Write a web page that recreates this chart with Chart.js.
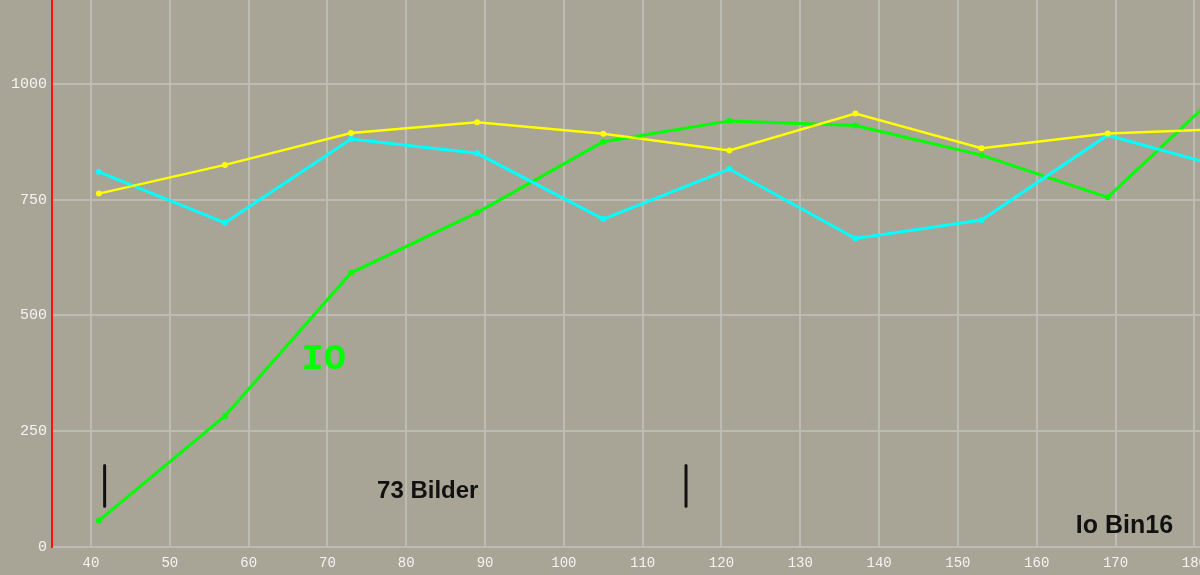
<!DOCTYPE html>
<html>
<head>
<meta charset="utf-8">
<script src="https://cdn.jsdelivr.net/npm/chart.js@4/dist/chart.umd.min.js"></script>
<style>
  html, body { margin: 0; padding: 0; background: #a8a496; }
  #wrap { width: 1200px; height: 575px; }
</style>
</head>
<body>
<div id="wrap"><canvas id="chart" width="1200" height="575"></canvas></div>
<script>
// Bildnummer (x) und Messwerte der drei Kurven
const frames = [41, 57, 73, 89, 105, 121, 137, 153, 169, 185]
const yellowValues = [763, 825, 894, 917, 892, 856, 936, 861, 893, 903]
const cyanValues = [810, 700, 881, 850, 708, 816, 666, 706, 889, 814]
const greenValues = [57, 283, 592, 722, 875, 920, 910, 846, 755, 1010]

const xTicks = [40, 50, 60, 70, 80, 90, 100, 110, 120, 130, 140, 150, 160, 170, 180]
const yTicks = [0, 250, 500, 750, 1000]

const toPoints = (vals) => vals.map((v, i) => ({ x: frames[i], y: v }))

// Annotations (in data coordinates)
const markers = [
  { x: 41.73, y0: 88, y1: 176 },
  { x: 115.5, y0: 88, y1: 176 },
]
const labels = [
  { text: "IO", x: 66.7, y: 384, font: "bold 37px 'Liberation Mono'", color: "#00ff00", align: "left" },
  { text: "73 Bilder", x: 76.3, y: 106, font: "bold 24px 'Liberation Sans'", color: "#111111", align: "left" },
  { text: "Io Bin16", x: 177.3, y: 30, font: "bold 25px 'Liberation Sans'", color: "#111111", align: "right" },
]

const annotationPlugin = {
  id: "annotations",
  afterDatasetsDraw(chart) {
    const { ctx, scales } = chart
    ctx.save()
    ctx.strokeStyle = "#111111"
    ctx.lineWidth = 3
    ctx.lineCap = "round"
    markers.forEach((m) => {
      const px = scales.x.getPixelForValue(m.x)
      ctx.beginPath()
      ctx.moveTo(px, scales.y.getPixelForValue(m.y0))
      ctx.lineTo(px, scales.y.getPixelForValue(m.y1))
      ctx.stroke()
    })
    labels.forEach((l) => {
      ctx.font = l.font
      ctx.fillStyle = l.color
      ctx.textAlign = l.align
      ctx.textBaseline = "alphabetic"
      ctx.fillText(l.text, scales.x.getPixelForValue(l.x), scales.y.getPixelForValue(l.y))
    })
    ctx.restore()
  },
}

const bgPlugin = {
  id: "bg",
  beforeDraw(chart) {
    const { ctx, width, height } = chart
    ctx.save()
    ctx.fillStyle = "#a8a496"
    ctx.fillRect(0, 0, width, height)
    ctx.restore()
  },
}

const lineSet = (data, color, width) => ({
  data: toPoints(data),
  borderColor: color,
  backgroundColor: color,
  borderWidth: width,
  pointRadius: 3,
  pointHoverRadius: 3,
  pointBorderWidth: 0,
  tension: 0,
  fill: false,
})

new Chart(document.getElementById("chart"), {
  type: "line",
  data: {
    datasets: [
      lineSet(yellowValues, "#ffff00", 2.5),
      lineSet(cyanValues, "#00ffff", 3),
      lineSet(greenValues, "#00ff00", 3),
    ],
  },
  plugins: [bgPlugin, annotationPlugin],
  options: {
    responsive: false,
    animation: false,
    layout: { padding: 0, autoPadding: false },
    plugins: {
      legend: { display: false },
      tooltip: { enabled: false },
    },
    scales: {
      x: {
        type: "linear",
        min: 35.05,
        max: 180.72,
        afterBuildTicks: (s) => { s.ticks = xTicks.map((v) => ({ value: v })) },
        afterFit: (s) => {
          s.height = 28
          s.paddingLeft = 0
          s.paddingRight = 0
        },
        grid: { color: "#bdbcb4", lineWidth: 2, drawTicks: false },
        border: { color: "#bdbcb4", width: 2 },
        ticks: {
          color: "#f4f4f4",
          padding: 8,
          maxRotation: 0,
          font: { family: "'Liberation Mono'", size: 14 },
          callback: (v) => String(v),
        },
      },
      y: {
        type: "linear",
        min: 0,
        max: 1181,
        afterBuildTicks: (s) => { s.ticks = yTicks.map((v) => ({ value: v })) },
        afterFit: (s) => {
          s.width = 52
          s.paddingTop = 0
          s.paddingBottom = 0
        },
        grid: { color: "#bdbcb4", lineWidth: 2, drawTicks: false },
        border: { color: "#ff1010", width: 2 },
        ticks: {
          color: "#f4f4f4",
          padding: 5,
          font: { family: "'Liberation Mono'", size: 15 },
          callback: (v) => String(v),
        },
      },
    },
  },
})
</script>
</body>
</html>
